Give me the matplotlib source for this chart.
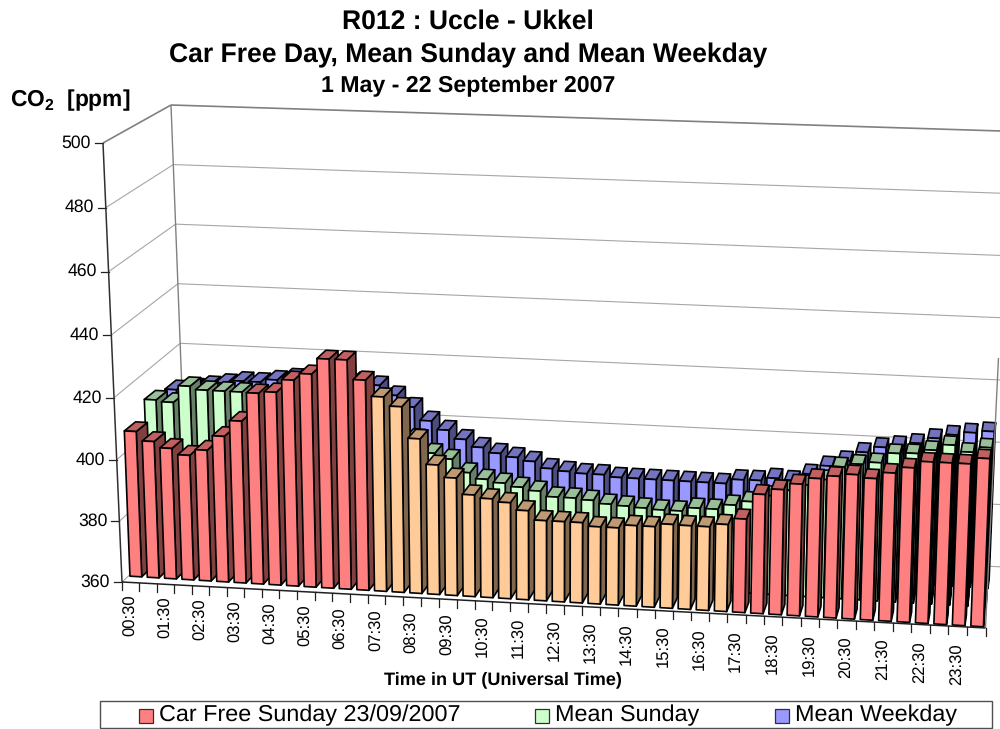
#!/usr/bin/env python3
"""Excel-style 3D column chart of CO2 at Uccle, drawn on a flat pixel-sized axes."""

import numpy as np
import matplotlib
matplotlib.use("Agg")
import matplotlib.pyplot as plt
from matplotlib.patches import Polygon, Rectangle

plt.rcParams["font.family"] = ["Liberation Sans", "DejaVu Sans"]
plt.rcParams["mathtext.fontset"] = "custom"
plt.rcParams["mathtext.rm"] = "Liberation Sans"
plt.rcParams["mathtext.bf"] = "Liberation Sans:bold"
plt.rcParams["text.hinting"] = "no_hinting"

# ── data (ppm, half-hourly, 00:30 to 24:00) ──────────────────────────────────
car_free = [406.2, 403.3, 401.4, 399.5, 401.4, 406.1, 411.2, 420.3, 420.9, 425.0,
            427.2, 432.2, 432.2, 426.1, 421.1, 418.3, 408.5, 400.6, 396.8, 391.8,
            390.9, 390.0, 387.8, 385.0, 385.0, 385.0, 384.0, 384.0, 385.0, 385.0,
            386.0, 385.9, 385.9, 386.9, 388.9, 396.8, 398.6, 400.6, 402.6, 403.6,
            404.4, 403.5, 405.5, 407.4, 409.5, 409.5, 409.5, 411.4]
mean_sunday = [411.0, 410.5, 416.0, 415.0, 415.0, 415.0, 414.0, 414.0, 413.0, 413.0,
               412.0, 412.0, 410.0, 408.0, 406.0, 403.0, 398.6, 397.0, 393.0, 391.2,
               390.3, 389.3, 388.4, 386.8, 386.8, 386.4, 385.5, 385.2, 384.9, 384.6,
               384.6, 385.8, 385.8, 387.4, 388.8, 391.0, 393.0, 395.0, 397.0, 401.3,
               402.4, 403.2, 406.4, 406.7, 408.0, 409.9, 408.0, 409.7]
mean_weekday = [409.0, 410.0, 411.0, 412.0, 413.0, 413.0, 414.0, 415.0, 416.0, 417.0,
                416.0, 415.0, 414.0, 411.0, 407.5, 403.3, 400.6, 397.9, 395.6, 394.0,
                393.0, 392.0, 390.0, 389.4, 389.0, 389.0, 388.4, 388.4, 388.4, 388.4,
                388.4, 388.4, 388.4, 389.9, 390.0, 391.0, 390.6, 393.0, 395.9, 397.9,
                400.9, 402.8, 403.7, 404.7, 406.6, 408.0, 409.0, 409.7]
tick_labels = ["00:30", "01:30", "02:30", "03:30", "04:30", "05:30", "06:30", "07:30",
               "08:30", "09:30", "10:30", "11:30", "12:30", "13:30", "14:30", "15:30",
               "16:30", "17:30", "18:30", "19:30", "20:30", "21:30", "22:30", "23:30"]
y_ticks = [360, 380, 400, 420, 440, 460, 480, 500]
legend_labels = ["Car Free Sunday 23/09/2007", "Mean Sunday", "Mean Weekday"]

# ── geometry: corners of the scene in image pixels ───────────────────────────
N_CAT = len(car_free)
V0, V1 = y_ticks[0], y_ticks[-1]

# (front/back, bottom/top, left/right)
WALL = {"fbl": (122, 582), "ftl": (103, 143), "fbr": (985.5, 628), "ftr": (1008, 160),
        "bbl": (187, 522), "btl": (171, 105), "bbr": (1003, 567), "btr": (1020, 131.6)}
BARS = {"fbl": (127.2, 576), "ftl": (110, 136), "fbr": (986.4, 627), "ftr": (1004, 169),
        "bbl": (179, 527), "btl": (163, 107), "bbr": (992, 578), "btr": (1010, 141)}

ROWS = [(0.0, 0.215), (0.395, 0.61), (0.785, 1.0)]
BAR_GAP = 0.16
X_WARP = 0.966
WALL_V_WARP = 0.965  # front edge of the side wall is not evenly spaced

RED = ("#FF8080", "#804040", "#C06060")
ORANGE = ("#FFCC99", "#80664C", "#BF9973")
GREEN = ("#CCFFCC", "#668066", "#99BF99")
BLUE = ("#9999FF", "#4C4C80", "#7373BF")


def project(box, x, v, z):
    """Category position x, value v and depth z (0 front, 1 back) to pixels."""
    t = x / N_CAT
    t = t * X_WARP / (1 + (X_WARP - 1) * t)
    u = (v - V0) / (V1 - V0)
    if box is WALL:
        w = 1 + (WALL_V_WARP - 1) * (1 - z)
        u = u * w / (1 + (w - 1) * u)
    out = np.zeros(2)
    for d, a in (("f", 1 - z), ("b", z)):
        for h, b in (("b", 1 - u), ("t", u)):
            for s, c in (("l", 1 - t), ("r", t)):
                out += a * b * c * np.array(box[d + h + s])
    return out


def draw_bar(ax, i, value, z_range, colors):
    front, side, top = colors
    x0, x1 = i + BAR_GAP, i + 1 - BAR_GAP
    z0, z1 = z_range
    faces = [
        (side, [(x1, V0, z0), (x1, value, z0), (x1, value, z1), (x1, V0, z1)]),
        (top, [(x0, value, z0), (x1, value, z0), (x1, value, z1), (x0, value, z1)]),
        (front, [(x0, V0, z0), (x1, V0, z0), (x1, value, z0), (x0, value, z0)]),
    ]
    for color, pts in faces:
        xy = [project(BARS, *p) for p in pts]
        ax.add_patch(Polygon(xy, closed=True, facecolor=color, edgecolor="black",
                             lw=1.2, joinstyle="round", zorder=1))


def wall_line(ax, p0, p1, color, lw=0.8, zorder=0.5):
    a, b = project(WALL, *p0), project(WALL, *p1)
    ax.plot([a[0], b[0]], [a[1], b[1]], color=color, lw=lw,
            solid_capstyle="butt", zorder=zorder)


fig = plt.figure(figsize=(10, 7.29), dpi=100)
ax = fig.add_axes([0, 0, 1, 1])
ax.set_xlim(0, 1000)
ax.set_ylim(729, 0)
ax.axis("off")

# ── walls ────────────────────────────────────────────────────────────────────
for v in y_ticks:
    color, lw = ("#808080", 1.2) if v == V1 else ("#A6A6A6", 0.8)
    wall_line(ax, (0, v, 0), (0, v, 1), color, lw)
    wall_line(ax, (0, v, 1), (N_CAT, v, 1), color, lw)
wall_line(ax, (0, V0, 1), (0, V1, 1), "#808080", 1.0)
wall_line(ax, (N_CAT, V0, 0), (N_CAT, 442, 0), "#808080", 1.0, zorder=3)

# ── bars, back row first ─────────────────────────────────────────────────────
for i, val in enumerate(mean_weekday):
    draw_bar(ax, i, val, ROWS[2], BLUE)
for i, val in enumerate(mean_sunday):
    draw_bar(ax, i, val, ROWS[1], GREEN)
for i, val in enumerate(car_free):
    # 07:30 to 17:00 is the car free period
    draw_bar(ax, i, val, ROWS[0], ORANGE if 14 <= i < 34 else RED)

# ── axes ─────────────────────────────────────────────────────────────────────
wall_line(ax, (0, V0, 0), (0, V1, 0), "#303030", 1.1, zorder=3)
wall_line(ax, (0, V0, 0), (N_CAT, V0, 0), "#202020", 1.1, zorder=3)
for v in y_ticks:
    px, py = project(WALL, 0, v, 0)
    ax.plot([px - 8, px], [py, py], color="#202020", lw=0.9)
    ax.text(px - 12, py, str(v), ha="right", va="center", fontsize=12.7)
for i in range(N_CAT + 1):
    px, py = project(WALL, i, V0, 0)
    ax.plot([px, px], [py, py + 8], color="#202020", lw=0.9)
for k, lab in enumerate(tick_labels):
    px, py = project(WALL, 2 * k + 0.5, V0, 0)
    ax.text(px, py + 12 + 0.2 * k, lab, rotation=90, ha="center", va="top", fontsize=12)

# ── texts ────────────────────────────────────────────────────────────────────
ax.text(468, 22, "R012 : Uccle - Ukkel", ha="center", va="center",
        fontsize=19.1, fontweight="bold")
ax.text(468, 55, "Car Free Day, Mean Sunday and Mean Weekday", ha="center", va="center",
        fontsize=19.1, fontweight="bold")
ax.text(468, 86, "1 May - 22 September 2007", ha="center", va="center",
        fontsize=16.7, fontweight="bold")
ax.text(10, 100, r"CO$_{\mathbf{2}}$  [ppm]", ha="left", va="center",
        fontsize=16.4, fontweight="bold")
ax.text(503, 680, "Time in UT (Universal Time)", ha="center", va="center",
        fontsize=13.1, fontweight="bold")

# ── legend ───────────────────────────────────────────────────────────────────
ax.add_patch(Rectangle((100, 700.5), 892, 27.5, facecolor="white", edgecolor="#505050", lw=1.0))
for lab, colors, sx in zip(legend_labels, (RED, GREEN, BLUE), (139, 535, 775)):
    ax.add_patch(Rectangle((sx, 708.5), 14, 14, facecolor=colors[0], edgecolor="#303030", lw=0.9))
    ax.text(sx + 20, 715.5, lab, ha="left", va="center", fontsize=16.8)

fig.savefig("out.png", dpi=100)
